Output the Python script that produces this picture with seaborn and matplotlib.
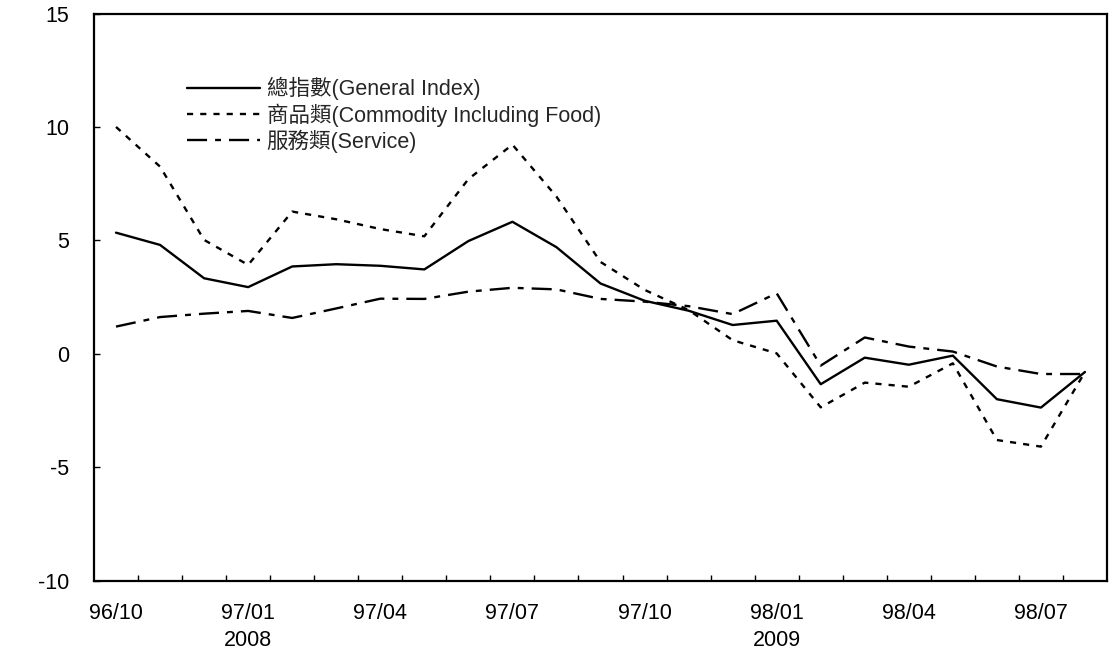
import numpy as np
import pandas as pd
import matplotlib
matplotlib.use('Agg')
import matplotlib.pyplot as plt
from matplotlib.ticker import FixedLocator
import seaborn as sns

# Monthly categories (ROC year/month), 96/10 .. 98/08
months = ['96/10', '96/11', '96/12', '97/01', '97/02', '97/03', '97/04', '97/05',
          '97/06', '97/07', '97/08', '97/09', '97/10', '97/11', '97/12', '98/01',
          '98/02', '98/03', '98/04', '98/05', '98/06', '98/07', '98/08']
shown_labels = ['96/10', '97/01', '97/04', '97/07', '97/10', '98/01', '98/04', '98/07']
year_labels = {'97/01': '2008', '98/01': '2009'}

general = [5.34, 4.80, 3.33, 2.94, 3.85, 3.95, 3.88, 3.72, 4.97, 5.82, 4.70, 3.10,
           2.34, 1.90, 1.27, 1.46, -1.34, -0.17, -0.48, -0.08, -2.00, -2.37, -0.80]
commodity = [10.0, 8.25, 5.02, 3.92, 6.27, 5.93, 5.50, 5.18, 7.70, 9.22, 6.93, 4.05,
             2.82, 1.93, 0.60, 0.02, -2.36, -1.27, -1.45, -0.42, -3.80, -4.09, -0.80]
service = [1.20, 1.62, 1.77, 1.89, 1.58, 2.00, 2.43, 2.42, 2.74, 2.91, 2.84, 2.42,
           2.30, 2.10, 1.75, 2.67, -0.52, 0.72, 0.32, 0.10, -0.56, -0.89, -0.89]

names = ['總指數(General Index)', '商品類(Commodity Including Food)', '服務類(Service)']
styles = ['-', (0, (2.6, 3.0)), (0, (8.5, 3.4, 2.5, 3.4))]

sns.set_theme(style='white')
plt.rcParams['font.family'] = ['Liberation Sans', 'Noto Sans CJK TC', 'DejaVu Sans']

fig = plt.figure(figsize=(11.15, 6.5), dpi=100)
ax = fig.add_axes([94 / 1115, 1 - 580.7 / 650, (1107 - 94) / 1115, (580.7 - 13.5) / 650])

pos = np.arange(len(months))
for vals, name, ls in zip([general, commodity, service], names, styles):
    sns.lineplot(x=pos, y=vals, ax=ax, color='black', lw=1.7, linestyle=ls, label=name)

ax.set_xlim(-0.5, len(months) - 0.5)
ax.set_ylim(-10, 15)
ax.set_yticks([-10, -5, 0, 5, 10, 15])
ax.set_yticklabels(['-10', '-5', '0', '5', '10', '15'])

tick_pos = [months.index(m) for m in shown_labels]
ax.set_xticks(tick_pos)
ax.set_xticklabels([m + ('\n' + year_labels[m] if m in year_labels else '') for m in shown_labels],
                   linespacing=1.4)
ax.xaxis.set_minor_locator(FixedLocator(np.arange(0.5, len(months) - 1, 1.0)))

ax.tick_params(axis='x', which='major', length=0, pad=16, labelsize=15.5, colors='black')
ax.tick_params(axis='x', which='minor', direction='in', length=4.5, width=1, bottom=True, color='black')
ax.tick_params(axis='y', direction='in', length=4.5, width=1, left=True, pad=18, labelsize=15.5, colors='black')

for sp in ax.spines.values():
    sp.set_visible(True)
    sp.set_color('black')
    sp.set_linewidth(1.6)

ax.set_xlabel('')
ax.set_ylabel('')
ax.legend(loc='upper left', bbox_to_anchor=(187 / 1115, 1 - 77 / 650),
          bbox_transform=fig.transFigure, frameon=False, fontsize=15.5,
          handlelength=3.4, handletextpad=0.3, labelspacing=0.14, borderpad=0,
          borderaxespad=0)

fig.savefig('out.png', dpi=100)
